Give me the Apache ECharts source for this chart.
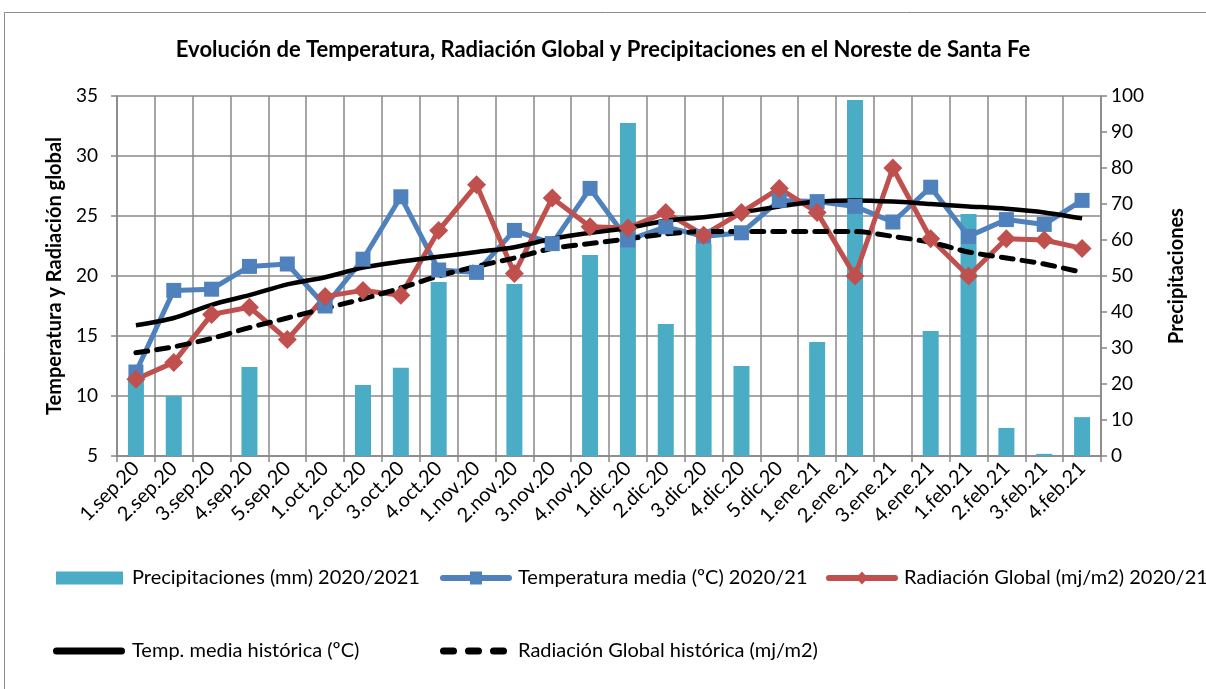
<!DOCTYPE html>
<html><head><meta charset="utf-8">
<script src="https://cdn.jsdelivr.net/npm/echarts@6/dist/echarts.min.js"></script>
<style>html,body{margin:0;padding:0;background:#fff}#c{width:1206px;height:689px}</style>
</head><body><div id="c"></div>
<script>
const categories = ['1.sep.20','2.sep.20','3.sep.20','4.sep.20','5.sep.20','1.oct.20','2.oct.20','3.oct.20','4.oct.20','1.nov.20','2.nov.20','3.nov.20','4.nov.20','1.dic.20','2.dic.20','3.dic.20','4.dic.20','5.dic.20','1.ene.21','2.ene.21','3.ene.21','4.ene.21','1.feb.21','2.feb.21','3.feb.21','4.feb.21'];
const precipitaciones = [22,16.7,0,24.7,0,0,19.7,24.5,48.3,0,47.8,0,55.8,92.5,36.7,58.9,25,0,31.7,98.9,0,34.7,67.2,7.8,0.6,10.8];
const tempMedia = [12.0,18.8,18.9,20.8,21.0,17.5,21.4,26.6,20.5,20.3,23.8,22.7,27.3,23.0,24.1,23.3,23.6,26.3,26.2,25.8,24.5,27.4,23.3,24.7,24.3,26.3];
const radiacion = [11.4,12.8,16.8,17.4,14.7,18.3,18.8,18.4,23.8,27.6,20.2,26.5,24.1,24.0,25.3,23.4,25.3,27.3,25.3,20.0,29.0,23.1,20.0,23.1,23.0,22.3];
const tempHist = [15.9,16.5,17.6,18.4,19.3,19.9,20.7,21.2,21.6,22.0,22.4,23.1,23.6,24.0,24.6,24.9,25.3,25.8,26.2,26.3,26.2,26.0,25.8,25.6,25.3,24.8];
const radHist = [13.6,14.1,14.8,15.7,16.5,17.3,18.1,19.0,20.0,20.8,21.5,22.3,22.7,23.1,23.5,23.7,23.7,23.7,23.7,23.7,23.3,22.8,22.0,21.5,21.0,20.3];
const leftTicks = {min:5,max:35,interval:5};
const rightTicks = {min:0,max:100,interval:10};
const seriesNames = ['Precipitaciones (mm) 2020/2021','Temperatura media (ºC) 2020/21','Radiación Global (mj/m2) 2020/21','Temp. media histórica (ºC)','Radiación Global histórica (mj/m2)'];
const titleText = 'Evolución de Temperatura, Radiación Global y Precipitaciones en el Noreste de Santa Fe';

const FONT = "Lato, 'Open Sans', sans-serif";
const pill = 'M3,3.5 L69,3.5 A3,3 0 0 1 69,9.5 L3,9.5 A3,3 0 0 1 3,3.5 Z ';
const icons = [
  'rect',
  'path://' + pill + 'M30,0 L42,0 L42,13 L30,13 Z',
  'path://' + pill + 'M36,0 L42,6.5 L36,13 L30,6.5 Z',
  'path://M3.5,0 L68.5,0 A3.5,3.5 0 0 1 68.5,7 L3.5,7 A3.5,3.5 0 0 1 3.5,0 Z',
  'path://M3.5,0 L13.5,0 A3.5,3.5 0 0 1 13.5,7 L3.5,7 A3.5,3.5 0 0 1 3.5,0 Z M28.5,0 L38.5,0 A3.5,3.5 0 0 1 38.5,7 L28.5,7 A3.5,3.5 0 0 1 28.5,0 Z M53.5,0 L63.5,0 A3.5,3.5 0 0 1 63.5,7 L53.5,7 A3.5,3.5 0 0 1 53.5,0 Z'
];
const legendLayout = [
  {left:56,top:568,w:67,h:13,pad:4},
  {left:440,top:568,w:72,h:13,pad:1},
  {left:826,top:568,w:72,h:13,pad:1},
  {left:53,top:641,w:72,h:7,pad:2},
  {left:440,top:641,w:67,h:7,pad:6}
];
const chart = echarts.init(document.getElementById('c'),null,{renderer:'canvas'});
chart.setOption({
  animation:false,
  textStyle:{fontFamily:FONT},
  title:{text:titleText,left:'center',top:34,textStyle:{fontFamily:FONT,fontSize:22,fontWeight:'bold',color:'#000'}},
  graphic:[{type:'rect',shape:{x:4.5,y:12.5,width:1220,height:700},style:{fill:'none',stroke:'#8c8c8c',lineWidth:1},silent:true}],
  legend: seriesNames.map((n,i)=>({
    data:[{name:n,icon:icons[i]}],left:legendLayout[i].left,top:legendLayout[i].top,
    itemWidth:legendLayout[i].w,itemHeight:legendLayout[i].h,itemGap:0,padding:0,
    textStyle:{fontFamily:FONT,fontSize:20,color:'#000',padding:[0,0,0,legendLayout[i].pad]}
  })),
  grid:{left:117,right:105,top:96,bottom:233,containLabel:false},
  xAxis:{type:'category',data:categories,boundaryGap:true,
    axisLine:{lineStyle:{color:'#868686',width:1.5}},
    axisTick:{show:true,length:6,lineStyle:{color:'#868686',width:1.5}},
    splitLine:{show:true,lineStyle:{color:'#898989',width:1.5}},
    axisLabel:{rotate:45,fontFamily:FONT,fontSize:20,color:'#000',margin:9,interval:0}},
  yAxis:[
    {type:'value',min:leftTicks.min,max:leftTicks.max,interval:leftTicks.interval,
     name:'Temperatura y Radiación global',nameLocation:'middle',nameRotate:90,nameGap:52,
     nameTextStyle:{fontFamily:FONT,fontSize:20,fontWeight:'bold',color:'#000'},
     axisLine:{show:true,lineStyle:{color:'#868686',width:1.5}},
     axisTick:{show:true,length:6,lineStyle:{color:'#868686',width:1.5}},
     splitLine:{show:true,lineStyle:{color:'#898989',width:1.5}},
     axisLabel:{fontFamily:FONT,fontSize:19,color:'#000',margin:19}},
    {type:'value',min:rightTicks.min,max:rightTicks.max,interval:rightTicks.interval,position:'right',
     name:'Precipitaciones',nameLocation:'middle',nameRotate:90,nameGap:66,
     nameTextStyle:{fontFamily:FONT,fontSize:20,fontWeight:'bold',color:'#000'},
     axisLine:{show:true,lineStyle:{color:'#868686',width:1.5}},
     axisTick:{show:true,length:6,lineStyle:{color:'#868686',width:1.5}},
     splitLine:{show:false},
     axisLabel:{fontFamily:FONT,fontSize:19,color:'#000',margin:10}}
  ],
  series:[
    {name:seriesNames[0],type:'bar',yAxisIndex:1,data:precipitaciones,barWidth:16,itemStyle:{color:'#4BACC6'}},
    {name:seriesNames[1],type:'line',yAxisIndex:0,data:tempMedia,symbol:'rect',symbolSize:15,lineStyle:{color:'#4F81BD',width:5},itemStyle:{color:'#4F81BD'}},
    {name:seriesNames[2],type:'line',yAxisIndex:0,data:radiacion,symbol:'diamond',symbolSize:[19,19],lineStyle:{color:'#C0504D',width:5},itemStyle:{color:'#C0504D'}},
    {name:seriesNames[3],type:'line',yAxisIndex:0,data:tempHist,symbol:'none',smooth:0.3,lineStyle:{color:'#000',width:4.5},itemStyle:{color:'#000'}},
    {name:seriesNames[4],type:'line',yAxisIndex:0,data:radHist,symbol:'none',smooth:0.3,lineStyle:{color:'#000',width:5,type:[12,9],cap:'round'},itemStyle:{color:'#000'}}
  ]
});
</script></body></html>
